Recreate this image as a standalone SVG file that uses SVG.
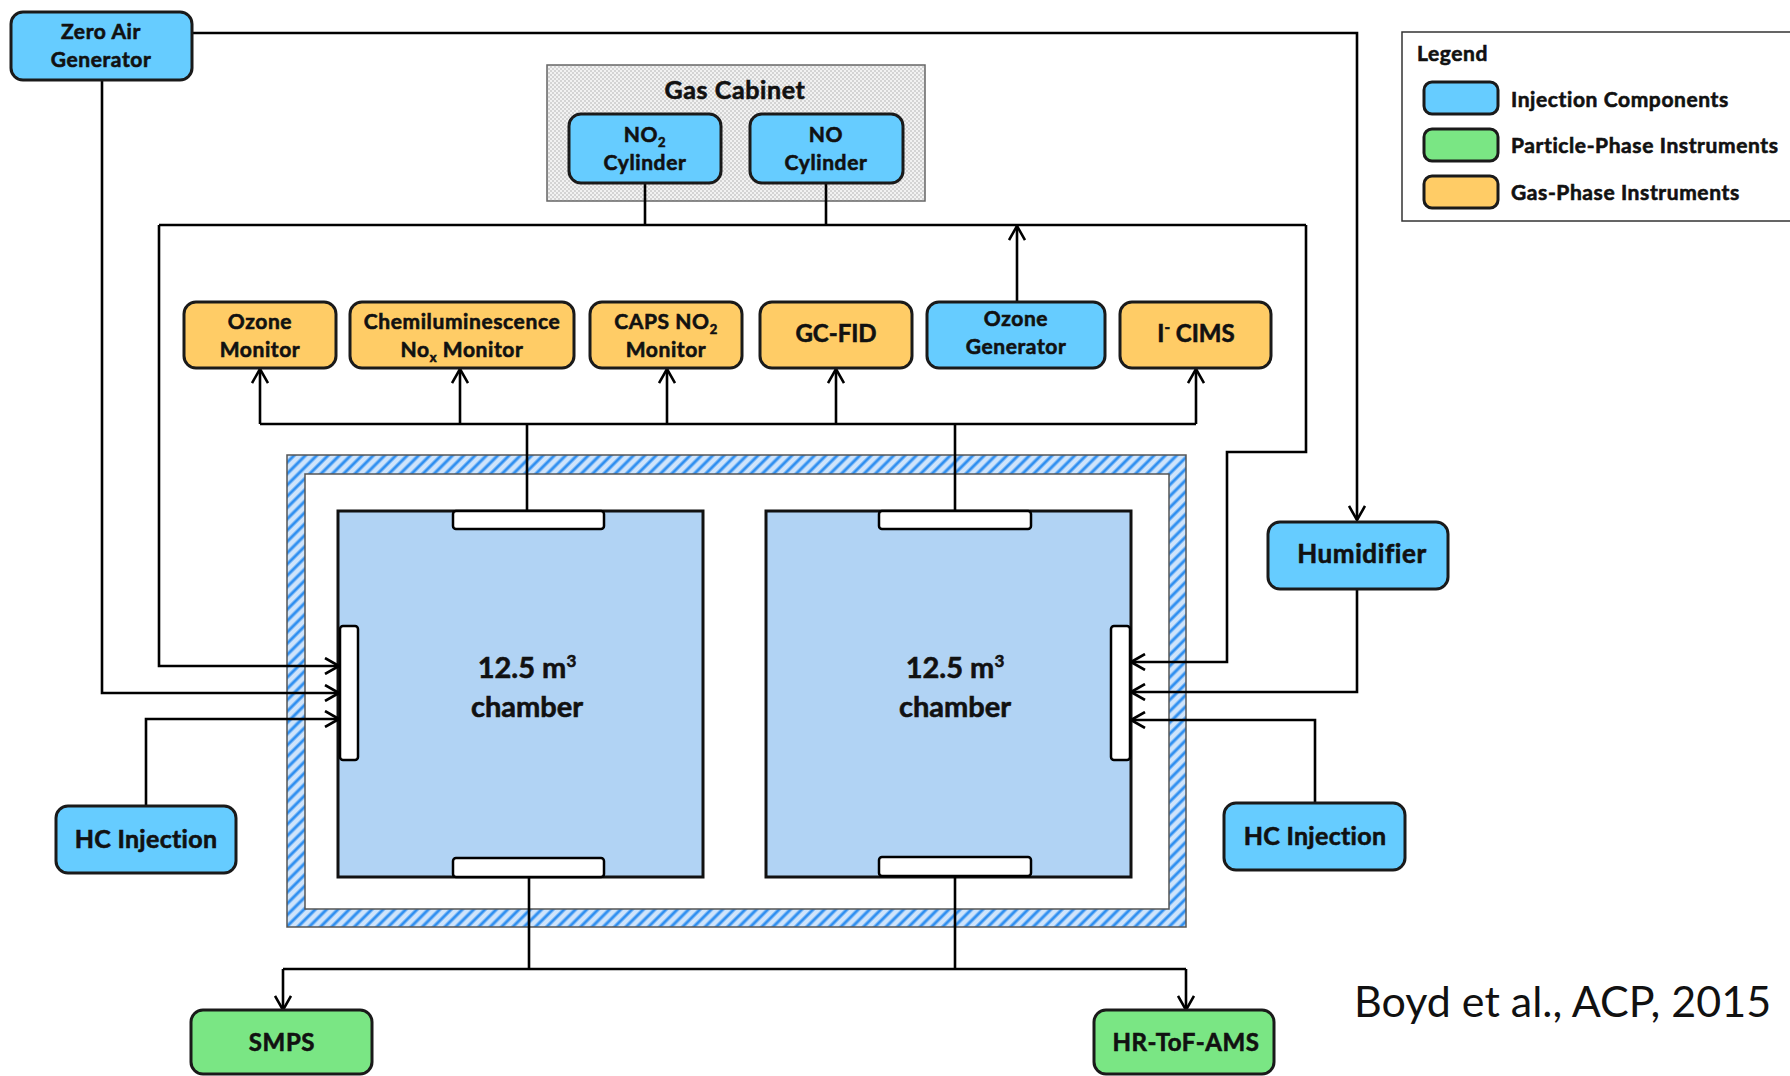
<svg xmlns="http://www.w3.org/2000/svg" width="1790" height="1076" viewBox="0 0 1790 1076">
<defs>
<pattern id="hatch" width="8" height="8" patternUnits="userSpaceOnUse" patternTransform="rotate(45)">
<rect width="8" height="8" fill="#cfe4fb"/>
<line x1="2" y1="0" x2="2" y2="8" stroke="#2f8ff0" stroke-width="3"/>
</pattern>
<pattern id="checker" width="4" height="4" patternUnits="userSpaceOnUse">
<rect width="4" height="4" fill="#f2f2f2"/>
<rect width="2" height="2" fill="#d4d4d4"/>
<rect x="2" y="2" width="2" height="2" fill="#d4d4d4"/>
</pattern>
<marker id="arr" viewBox="0 0 16 18" refX="15" refY="9" markerWidth="16" markerHeight="18" markerUnits="userSpaceOnUse" orient="auto">
<path d="M1,1 L15,9 L1,17" fill="none" stroke="#000" stroke-width="2.6"/>
</marker>
</defs>
<style>
.box{stroke:#1a1a1a;stroke-width:3}
.inj{fill:#66ccff}
.gas{fill:#ffcc66}
.part{fill:#7ae684}
.t{font-family:Lato,"Liberation Sans",sans-serif;font-weight:bold;fill:#111;stroke:#111;stroke-width:0.6;text-anchor:middle}
.s{font-size:21px;letter-spacing:0.6px}
.c{fill:none;stroke:#000;stroke-width:2.6}
.port{fill:#fff;stroke:#000;stroke-width:2.5}
</style>
<rect width="1790" height="1076" fill="#fff"/>

<g id="enclosure">
<rect x="287" y="455" width="899" height="472" fill="url(#hatch)" stroke="#555" stroke-width="1.5"/>
<rect x="305" y="474" width="864" height="435" fill="#fff" stroke="#555" stroke-width="1.5"/>
</g>

<g id="gas-cabinet">
<rect x="547" y="65" width="378" height="136" fill="url(#checker)" stroke="#666" stroke-width="1.5"/>
<text class="t" x="735" y="99" font-size="25" letter-spacing="0.6">Gas Cabinet</text>
</g>

<g id="chamber1">
<rect x="338" y="511" width="365" height="366" fill="#b1d3f4" stroke="#111" stroke-width="3"/>
<text class="t" x="527" y="678" font-size="29">12.5 m<tspan font-size="17" dy="-11">3</tspan></text>
<text class="t" x="527" y="717" font-size="29">chamber</text>
</g>
<g id="chamber2">
<rect x="766" y="511" width="365" height="366" fill="#b1d3f4" stroke="#111" stroke-width="3"/>
<text class="t" x="955" y="678" font-size="29">12.5 m<tspan font-size="17" dy="-11">3</tspan></text>
<text class="t" x="955" y="717" font-size="29">chamber</text>
</g>

<g id="connectors">
<path class="c" d="M192,33 H1357 V520" marker-end="url(#arr)"/>
<path class="c" d="M102,80 V693 H339" marker-end="url(#arr)"/>
<path class="c" d="M645,183 V225"/>
<path class="c" d="M826,183 V225"/>
<path class="c" d="M159,225 H1306"/>
<path class="c" d="M159,225 V666 H339" marker-end="url(#arr)"/>
<path class="c" d="M1306,225 V452 H1227 V662 H1131" marker-end="url(#arr)"/>
<path class="c" d="M1017,302 V226" marker-end="url(#arr)"/>
<path class="c" d="M527,511 V424"/>
<path class="c" d="M955,511 V424"/>
<path class="c" d="M260,424 H1196"/>
<path class="c" d="M260,424 V369" marker-end="url(#arr)"/>
<path class="c" d="M460,424 V369" marker-end="url(#arr)"/>
<path class="c" d="M667,424 V369" marker-end="url(#arr)"/>
<path class="c" d="M836,424 V369" marker-end="url(#arr)"/>
<path class="c" d="M1196,424 V369" marker-end="url(#arr)"/>
<path class="c" d="M146,806 V719 H339" marker-end="url(#arr)"/>
<path class="c" d="M1357,589 V692 H1131" marker-end="url(#arr)"/>
<path class="c" d="M1315,803 V720 H1131" marker-end="url(#arr)"/>
<path class="c" d="M529,877 V969"/>
<path class="c" d="M955,877 V969"/>
<path class="c" d="M283,969 H1186"/>
<path class="c" d="M283,969 V1010" marker-end="url(#arr)"/>
<path class="c" d="M1186,969 V1010" marker-end="url(#arr)"/>
</g>

<g id="ports">
<rect class="port" x="453" y="511" width="151" height="18" rx="3"/>
<rect class="port" x="453" y="858" width="151" height="19" rx="3"/>
<rect class="port" x="340" y="626" width="18" height="134" rx="3"/>
<rect class="port" x="879" y="511" width="152" height="18" rx="3"/>
<rect class="port" x="879" y="857" width="152" height="19" rx="3"/>
<rect class="port" x="1111" y="626" width="19" height="134" rx="3"/>
</g>

<g id="zero-air-generator">
<rect class="box inj" x="11" y="12" width="181" height="68" rx="12"/>
<text class="t s" x="101" y="39">Zero Air</text>
<text class="t s" x="101" y="67">Generator</text>
</g>
<g id="no2-cylinder">
<rect class="box inj" x="569" y="114" width="152" height="69" rx="12"/>
<text class="t s" x="645" y="142">NO<tspan font-size="13" dy="5">2</tspan></text>
<text class="t s" x="645" y="170">Cylinder</text>
</g>
<g id="no-cylinder">
<rect class="box inj" x="750" y="114" width="153" height="69" rx="12"/>
<text class="t s" x="826" y="142">NO</text>
<text class="t s" x="826" y="170">Cylinder</text>
</g>
<g id="ozone-monitor">
<rect class="box gas" x="184" y="302" width="152" height="66" rx="12"/>
<text class="t s" x="260" y="329">Ozone</text>
<text class="t s" x="260" y="357">Monitor</text>
</g>
<g id="chemiluminescence-monitor">
<rect class="box gas" x="350" y="302" width="224" height="66" rx="12"/>
<text class="t s" x="462" y="329">Chemiluminescence</text>
<text class="t s" x="462" y="357">No<tspan font-size="13" dy="5">x</tspan><tspan dy="-5"> Monitor</tspan></text>
</g>
<g id="caps-no2-monitor">
<rect class="box gas" x="590" y="302" width="152" height="66" rx="12"/>
<text class="t s" x="666" y="329">CAPS NO<tspan font-size="13" dy="5">2</tspan></text>
<text class="t s" x="666" y="357">Monitor</text>
</g>
<g id="gc-fid">
<rect class="box gas" x="760" y="302" width="152" height="66" rx="12"/>
<text class="t" x="836" y="342" font-size="24">GC-FID</text>
</g>
<g id="ozone-generator">
<rect class="box inj" x="927" y="302" width="178" height="66" rx="12"/>
<text class="t s" x="1016" y="326">Ozone</text>
<text class="t s" x="1016" y="354">Generator</text>
</g>
<g id="i-cims">
<rect class="box gas" x="1120" y="302" width="151" height="66" rx="12"/>
<text class="t" x="1196" y="342" font-size="24">I<tspan font-size="15" dy="-9">-</tspan><tspan dy="9"> CIMS</tspan></text>
</g>
<g id="humidifier">
<rect class="box inj" x="1268" y="522" width="180" height="67" rx="12"/>
<text class="t" x="1362" y="563" font-size="26" letter-spacing="0.6">Humidifier</text>
</g>
<g id="hc-injection-left">
<rect class="box inj" x="56" y="806" width="180" height="67" rx="12"/>
<text class="t" x="146" y="848" font-size="25" letter-spacing="0.3">HC Injection</text>
</g>
<g id="hc-injection-right">
<rect class="box inj" x="1224" y="803" width="181" height="67" rx="12"/>
<text class="t" x="1315" y="845" font-size="25" letter-spacing="0.3">HC Injection</text>
</g>
<g id="smps">
<rect class="box part" x="191" y="1010" width="181" height="64" rx="12"/>
<text class="t" x="282" y="1051" font-size="24" letter-spacing="0.6">SMPS</text>
</g>
<g id="hr-tof-ams">
<rect class="box part" x="1094" y="1010" width="180" height="64" rx="12"/>
<text class="t" x="1186" y="1051" font-size="24" letter-spacing="0.6">HR-ToF-AMS</text>
</g>

<g id="legend">
<rect x="1402" y="32" width="400" height="189" fill="#fff" stroke="#333" stroke-width="1.5"/>
<text class="t" x="1417" y="61" font-size="21" letter-spacing="0.6" style="text-anchor:start">Legend</text>
<rect class="box inj" x="1424" y="82" width="74" height="32" rx="8"/>
<rect class="box part" x="1424" y="129" width="74" height="32" rx="8"/>
<rect class="box gas" x="1424" y="176" width="74" height="32" rx="8"/>
<text class="t s" x="1511" y="107" style="text-anchor:start">Injection Components</text>
<text class="t s" x="1511" y="153" style="text-anchor:start">Particle-Phase Instruments</text>
<text class="t s" x="1511" y="200" style="text-anchor:start">Gas-Phase Instruments</text>
</g>

<text x="1354" y="1017" font-family="Lato,'Liberation Sans',sans-serif" font-size="43" fill="#111">Boyd et al., ACP, 2015</text>
</svg>
